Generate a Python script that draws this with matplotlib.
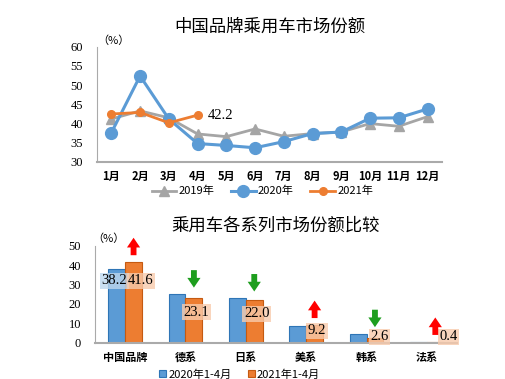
import numpy as np
import matplotlib
matplotlib.use('Agg')
import matplotlib.pyplot as plt

plt.rcParams['font.family'] = ['Noto Sans CJK SC', 'DejaVu Sans']

# données du graphique du haut
mois = ['1月', '2月', '3月', '4月', '5月', '6月', '7月', '8月', '9月', '10月', '11月', '12月']
part_2019 = [41.2, 43.3, 41.5, 37.3, 36.6, 38.6, 36.7, 37.4, 37.8, 40.0, 39.3, 41.8]
part_2020 = [37.6, 52.4, 41.2, 34.8, 34.3, 33.7, 35.3, 37.4, 37.8, 41.4, 41.5, 43.8]
part_2021 = [42.5, 42.9, 40.2, 42.2]

# données du graphique du bas
series = ['中国品牌', '德系', '日系', '美系', '韩系', '法系']
val_2020 = [38.2, 24.9, 22.9, 8.8, 4.5, 0.5]
val_2021 = [41.6, 23.1, 22.0, 9.2, 2.6, 0.4]
tendance = ['up', 'down', 'down', 'up', 'down', 'up']

gris = '#A5A5A5'
bleu = '#5B9BD5'
orange = '#ED7D31'
serif = 'Liberation Serif'

fig = plt.figure(figsize=(5.05, 3.79), dpi=100)

# ---- graphique du haut
ax1 = fig.add_axes([0.192, 0.5726, 0.683, 0.304])
x = np.arange(1, 13)
ax1.plot(x, part_2019, color=gris, lw=2, marker='^', ms=7, label='2019年')
ax1.plot(x, part_2020, color=bleu, lw=2.2, marker='o', ms=8.5, label='2020年')
ax1.plot(x[:4], part_2021, color=orange, lw=2, marker='o', ms=5.5, label='2021年')
ax1.text(x[3] + 0.35, part_2021[3], '42.2', family=serif, fontsize=10.5,
         va='center', ha='left')
ax1.set_xlim(0.5, 12.5)
ax1.set_ylim(30, 60)
ax1.set_yticks(range(30, 61, 5))
ax1.set_xticks(x)
ax1.set_xticklabels(mois, fontsize=8, fontweight='bold')
ax1.tick_params(axis='y', labelsize=9, length=0, pad=10)
for t in ax1.get_yticklabels():
    t.set_family(serif)
ax1.tick_params(axis='x', length=0, pad=6)
for s in ['top', 'right']:
    ax1.spines[s].set_visible(False)
ax1.spines['left'].set_color('#AAAAAA')
ax1.spines['bottom'].set_color('#AAAAAA')
ax1.spines['bottom'].set_linewidth(1.5)
ax1.text(0.52, 61.5, '（%）', fontsize=8, ha='left', va='center')
ax1.set_title('中国品牌乘用车市场份额', fontsize=12.5, pad=11)
ax1.legend(loc='upper center', bbox_to_anchor=(0.48, -0.17), ncol=3, frameon=False,
           fontsize=8, handlelength=2.2, columnspacing=1.5, handletextpad=0.2,
           borderaxespad=0)

# ---- graphique du bas
ax2 = fig.add_axes([0.188, 0.0958, 0.717, 0.2559])
pos = np.arange(len(series))
w = 0.28
ax2.bar(pos - w / 2, val_2020, w, color=bleu, edgecolor='#2E75B6', lw=0.8, label='2020年1-4月')
ax2.bar(pos + w / 2, val_2021, w, color=orange, edgecolor='#C55A11', lw=0.8, label='2021年1-4月')

# étiquettes
ax2.text(pos[0] - w / 2 - 0.04, 32, '%.1f' % val_2020[0], family=serif,
         fontsize=10.5, ha='center', va='center',
         bbox=dict(boxstyle='square,pad=0.1', fc='#BDD7EE', ec='none', alpha=0.8))
for i, v in enumerate(val_2021):
    if i == 0:
        yl = 32
        xl = pos[i] + w / 2 + 0.12
    elif v > 5:
        yl = v * 0.68
        xl = pos[i] + w / 2 + 0.04
    else:
        yl = 3
        xl = pos[i] + w / 2 + 0.08
        if v < 1:
            xl = pos[i] + w / 2 + 0.22
    ax2.text(xl, yl, '%.1f' % v, family=serif, fontsize=10.5, ha='center', va='center',
             bbox=dict(boxstyle='square,pad=0.1', fc='#F8CBAD', ec='none', alpha=0.8))

# flèches
for i in range(len(series)):
    haut = max(val_2020[i], val_2021[i])
    bas_f = haut + 3.5
    haut_f = haut + 12.5
    if tendance[i] == 'up':
        debut, fin, c = bas_f, haut_f, '#FF0000'
    else:
        debut, fin, c = haut_f, bas_f, '#1E9E1E'
    ax2.annotate('', xy=(pos[i] + w / 2, fin), xytext=(pos[i] + w / 2, debut),
                 arrowprops=dict(arrowstyle='simple,head_width=0.95,head_length=0.7,tail_width=0.42',
                                 color=c, lw=0, mutation_scale=10, shrinkA=0, shrinkB=0),
                 annotation_clip=False)

ax2.set_xlim(-0.5, 5.5)
ax2.set_ylim(0, 50)
ax2.set_yticks(range(0, 51, 10))
ax2.set_xticks(pos)
ax2.set_xticklabels(series, fontsize=8, fontweight='bold')
ax2.tick_params(axis='y', labelsize=9, length=0, pad=10)
for t in ax2.get_yticklabels():
    t.set_family(serif)
ax2.tick_params(axis='x', length=0, pad=6)
for s in ['top', 'right']:
    ax2.spines[s].set_visible(False)
ax2.spines['left'].set_color('#AAAAAA')
ax2.spines['bottom'].set_color('#AAAAAA')
ax2.spines['bottom'].set_linewidth(1.5)
ax2.text(-0.55, 53.5, '（%）', fontsize=8, ha='left', va='center')
ax2.set_title('乘用车各系列市场份额比较', fontsize=12.5, pad=11)
ax2.legend(loc='upper center', bbox_to_anchor=(0.4, -0.23), ncol=2, frameon=False,
           fontsize=8, handlelength=0.6, handleheight=0.6, columnspacing=1.5,
           handletextpad=0.2, borderaxespad=0)

fig.savefig('out.png', dpi=100)
